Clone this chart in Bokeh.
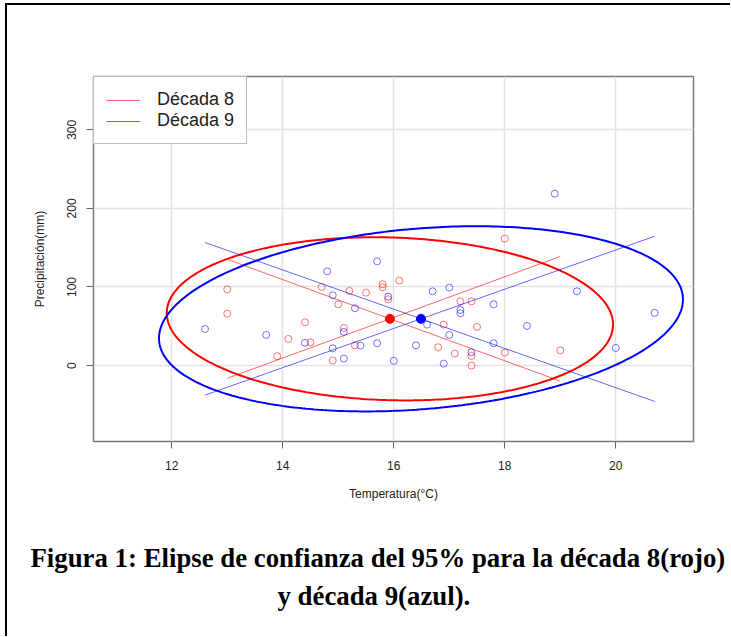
import numpy as np
from bokeh.plotting import figure
from bokeh.models import Range1d, FixedTicker, Legend, LegendItem, Title
from bokeh.embed import file_html
from bokeh.resources import INLINE

# ---- data ----
temp_d8 = [13.0, 13.0, 14.4, 14.1, 14.5, 13.9, 14.7, 15.0, 15.2, 15.5, 15.1, 15.3, 14.9, 15.8,
           15.8, 15.9, 16.1, 18.0, 17.2, 17.4, 16.9, 17.5, 16.8, 17.1, 17.4, 17.4, 18.0, 19.0]
prec_d8 = [97.0, 66.1, 55.1, 33.9, 29.6, 11.9, 100.0, 78.0, 95.0, 92.8, 47.9, 25.8, 6.4, 103.4,
           99.6, 84.3, 108.1, 161.5, 81.8, 81.8, 52.1, 49.2, 23.3, 15.3, 12.3, 0.0, 16.5, 19.5]
temp_d9 = [12.6, 13.7, 14.4, 14.9, 15.1, 15.1, 15.4, 15.7, 14.9, 14.8, 15.3, 15.7, 15.9, 16.0, 18.9,
           16.7, 17.0, 17.2, 17.2, 17.8, 16.6, 17.0, 16.4, 16.9, 17.4, 17.8, 18.4, 19.3, 20.0, 20.7]
prec_d9 = [46.6, 39.0, 28.9, 22.0, 8.9, 42.8, 25.4, 28.4, 89.4, 119.9, 72.9, 132.6, 87.7, 6.0, 218.7,
           94.5, 99.2, 70.8, 66.5, 78.0, 52.1, 39.0, 25.8, 2.5, 16.9, 28.4, 50.4, 94.5, 22.5, 67.0]

decades = ["Década 8", "Década 9"]
center_x = [15.93, 16.49]
center_y = [59.5, 59.5]
ell_half_x = [4.02, 4.72]      # 95% ellipse half extent in temperature
ell_half_y = [103.8, 117.8]    # 95% ellipse half extent in precipitation
ell_rho = [-0.07, 0.21]        # correlation

x_ticks = [12, 14, 16, 18, 20]
y_ticks = [0, 100, 200, 300]
caption_1 = "Figura 1: Elipse de confianza del 95% para la década 8(rojo)"
caption_2 = "y década 9(azul)."

# ---- figure ----
p = figure(frame_width=600, frame_height=365,
           x_range=Range1d(10.59, 21.40), y_range=Range1d(-96.6, 367.8),
           output_backend="svg", toolbar_location=None,
           min_border_left=86, min_border_top=71, min_border_right=37, min_border_bottom=195)
p.styles = {"margin-left": "5px", "margin-top": "3px",
            "border-left": "2px solid black", "border-top": "2px solid black"}
p.background_fill_color = "white"
p.border_fill_color = "white"
p.outline_line_color = "#7a7a7a"
p.outline_line_width = 1.5

for ax in (p.xaxis[0], p.yaxis[0]):
    ax.axis_line_color = None
    ax.major_tick_line_color = "#666666"
    ax.major_tick_line_width = 1
    ax.major_tick_out = 7
    ax.major_tick_in = 0
    ax.minor_tick_line_color = None
    ax.major_label_text_font = "Liberation Sans"
    ax.major_label_text_font_size = "12px"
    ax.major_label_text_color = "#222222"
    ax.axis_label_text_font = "Liberation Sans"
    ax.axis_label_text_font_size = "12px"
    ax.axis_label_text_font_style = "normal"
    ax.axis_label_text_color = "#222222"

p.xaxis.ticker = FixedTicker(ticks=x_ticks)
p.yaxis.ticker = FixedTicker(ticks=y_ticks)
p.xaxis.axis_label = "Temperatura(°C)"
p.yaxis.axis_label = "Precipitación(mm)"
p.xaxis.major_label_standoff = 12
p.yaxis.major_label_standoff = 10
p.yaxis.major_label_orientation = "vertical"
p.xaxis.axis_label_standoff = 14
p.yaxis.axis_label_standoff = 18

p.xgrid.ticker = FixedTicker(ticks=x_ticks)
p.ygrid.ticker = FixedTicker(ticks=y_ticks)
p.grid.grid_line_color = "#e3e3e3"
p.grid.grid_line_width = 1.5

colors = ["red", "blue"]
temps = [temp_d8, temp_d9]
precs = [prec_d8, prec_d9]
items = []
t = np.linspace(0, 2 * np.pi, 361)
for i in range(2):
    c = colors[i]
    p.scatter(temps[i], precs[i], size=7, marker="circle", fill_color=None,
              line_color=c, line_alpha=0.55, line_width=1)
    ex = center_x[i] + ell_half_x[i] * np.cos(t)
    ey = center_y[i] + ell_half_y[i] * (ell_rho[i] * np.cos(t) + np.sqrt(1 - ell_rho[i] ** 2) * np.sin(t))
    p.line(ex, ey, line_color=c, line_width=2)
    slope = ell_half_y[i] / ell_half_x[i]
    xs = np.array([min(temps[i]), max(temps[i])])
    r1 = p.line(xs, center_y[i] + slope * (xs - center_x[i]), line_color=c, line_alpha=0.6, line_width=1)
    p.line(xs, center_y[i] - slope * (xs - center_x[i]), line_color=c, line_alpha=0.6, line_width=1)
    items.append(LegendItem(label=decades[i], renderers=[r1]))

p.scatter(center_x, center_y, size=9, marker="circle", fill_color=colors, line_color=colors)

legend = Legend(items=items, location="top_left")
legend.margin = 0
legend.padding = 12
legend.spacing = 0
legend.glyph_width = 34
legend.glyph_height = 20
legend.label_height = 20
legend.label_standoff = 17
legend.label_text_font = "Liberation Sans"
legend.label_text_font_size = "18px"
legend.label_text_color = "#222222"
legend.border_line_color = "#7a7a7a"
legend.border_line_width = 1.5
legend.background_fill_alpha = 1
p.add_layout(legend, "center")

spacer = Title(text=" ", text_font_size="1px", standoff=30)
t1 = Title(text=caption_1, align="left", offset=-63, standoff=8,
           text_font="Liberation Serif", text_font_style="bold", text_font_size="26.8px", text_color="black")
t2 = Title(text=caption_2, align="left", offset=184, standoff=4,
           text_font="Liberation Serif", text_font_style="bold", text_font_size="26.8px", text_color="black")
p.add_layout(spacer, "below")
p.add_layout(t1, "below")
p.add_layout(t2, "below")

open("out.html", "w").write(file_html(p, INLINE))
